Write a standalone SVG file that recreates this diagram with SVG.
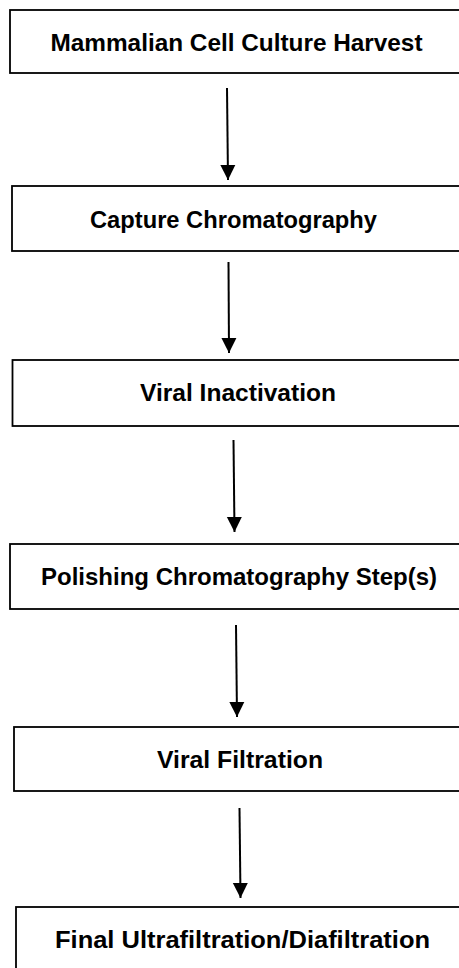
<svg xmlns="http://www.w3.org/2000/svg" width="459" height="968" viewBox="0 0 459 968">
  <style>
    .box { fill: #ffffff; stroke: #000000; stroke-width: 1.8; }
    .lbl { font-family: "Liberation Sans", Arial, sans-serif; font-weight: bold; font-size: 24px; fill: #000000; text-anchor: middle; }
    .conn { stroke: #000000; stroke-width: 2; fill: none; marker-end: url(#arrow); }
  </style>
  <defs>
    <marker id="arrow" markerUnits="userSpaceOnUse" markerWidth="16" markerHeight="16" viewBox="0 0 16 16" refX="15" refY="8" orient="auto">
      <path d="M0,0.5 L15,8 L0,15.5 Z" fill="#000000"/>
    </marker>
  </defs>
  <rect width="459" height="968" fill="#ffffff"/>
  <g id="connectors">
    <path class="conn" d="M227,88 L228,180"/>
    <path class="conn" d="M228.5,262 L229,353"/>
    <path class="conn" d="M233.5,440 L234.5,532"/>
    <path class="conn" d="M236,625 L237,717"/>
    <path class="conn" d="M239.5,808 L240.5,898"/>
  </g>
  <g id="node1">
    <rect class="box" x="10" y="10" width="470" height="63"/>
    <text class="lbl" x="236.5" y="51" textLength="372" lengthAdjust="spacingAndGlyphs">Mammalian Cell Culture Harvest</text>
  </g>
  <g id="node2">
    <rect class="box" x="12" y="186" width="470" height="65"/>
    <text class="lbl" x="233.5" y="228" textLength="287" lengthAdjust="spacingAndGlyphs">Capture Chromatography</text>
  </g>
  <g id="node3">
    <rect class="box" x="12.5" y="360" width="470" height="66"/>
    <text class="lbl" x="238" y="401" textLength="196" lengthAdjust="spacingAndGlyphs">Viral Inactivation</text>
  </g>
  <g id="node4">
    <rect class="box" x="10" y="544" width="470" height="65"/>
    <text class="lbl" x="239" y="585" textLength="396" lengthAdjust="spacingAndGlyphs">Polishing Chromatography Step(s)</text>
  </g>
  <g id="node5">
    <rect class="box" x="14" y="727" width="470" height="64"/>
    <text class="lbl" x="240" y="768" textLength="166" lengthAdjust="spacingAndGlyphs">Viral Filtration</text>
  </g>
  <g id="node6">
    <rect class="box" x="16" y="907" width="470" height="66"/>
    <text class="lbl" x="242.5" y="948" textLength="375" lengthAdjust="spacingAndGlyphs">Final Ultrafiltration/Diafiltration</text>
  </g>
</svg>
